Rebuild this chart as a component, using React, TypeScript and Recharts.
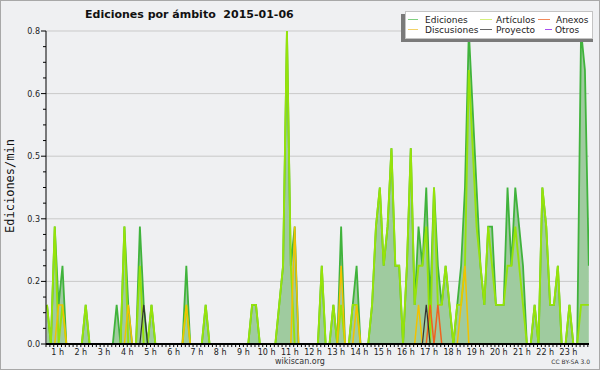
import React from 'react';
import { ComposedChart, Area, Line, XAxis, YAxis, CartesianGrid } from 'recharts';

// edits per minute, one point every 10 minutes (first point = 00:30)
const ediciones = [
  0.1, 0, 0.3, 0.1, 0.2, 0,
  0, 0, 0, 0, 0.1, 0,
  0, 0, 0, 0, 0, 0,
  0.1, 0, 0.3, 0.1, 0, 0,
  0.3, 0.1, 0, 0.1, 0, 0,
  0, 0, 0, 0, 0, 0,
  0.2, 0, 0, 0, 0, 0.1,
  0, 0, 0, 0, 0, 0,
  0, 0, 0, 0, 0, 0.1,
  0.1, 0, 0, 0, 0, 0,
  0.1, 0.2, 0.8, 0.2, 0.3, 0,
  0, 0, 0, 0, 0, 0.2,
  0, 0, 0.1, 0, 0.3, 0,
  0, 0.1, 0.2, 0, 0, 0,
  0.1, 0.3, 0.4, 0.2, 0.3, 0.5,
  0.2, 0.2, 0, 0.2, 0.5, 0.1,
  0.3, 0.2, 0.4, 0.1, 0.4, 0.2,
  0.1, 0.2, 0.1, 0, 0.1, 0.2,
  0.4, 0.8, 0.6, 0.4, 0.2, 0.1,
  0.3, 0.3, 0.1, 0.1, 0.1, 0.4,
  0.2, 0.4, 0.3, 0.2, 0, 0,
  0.1, 0, 0.4, 0.3, 0.1, 0.1,
  0.2, 0, 0, 0.1, 0, 0,
  0.8, 0.7, 0.2,
];

const articulos = [
  0.1, 0, 0.3, 0, 0.1, 0,
  0, 0, 0, 0, 0.1, 0,
  0, 0, 0, 0, 0, 0,
  0, 0, 0.3, 0, 0, 0,
  0.2, 0, 0, 0.1, 0, 0,
  0, 0, 0, 0, 0, 0,
  0.1, 0, 0, 0, 0, 0.1,
  0, 0, 0, 0, 0, 0,
  0, 0, 0, 0, 0, 0.1,
  0.1, 0, 0, 0, 0, 0,
  0.1, 0.2, 0.8, 0.2, 0, 0,
  0, 0, 0, 0, 0, 0.2,
  0, 0, 0.1, 0, 0.1, 0,
  0, 0.1, 0.1, 0, 0, 0,
  0.1, 0.3, 0.4, 0.2, 0.3, 0.5,
  0.2, 0.2, 0, 0.2, 0.5, 0.1,
  0.2, 0.2, 0.3, 0, 0.4, 0.1,
  0.1, 0.2, 0.1, 0, 0.1, 0.1,
  0.2, 0.7, 0.5, 0.3, 0.2, 0.1,
  0.3, 0.2, 0.1, 0.1, 0.1, 0.2,
  0.2, 0.3, 0.2, 0.1, 0, 0,
  0.1, 0, 0.4, 0.3, 0.1, 0.1,
  0.2, 0, 0, 0.1, 0, 0,
  0.1, 0.1, 0.1,
];

const discusiones = [
  0, 0, 0, 0.1, 0.1, 0,
  0, 0, 0, 0, 0, 0,
  0, 0, 0, 0, 0, 0,
  0, 0, 0, 0.1, 0, 0,
  0, 0, 0, 0, 0, 0,
  0, 0, 0, 0, 0, 0,
  0.1, 0, 0, 0, 0, 0,
  0, 0, 0, 0, 0, 0,
  0, 0, 0, 0, 0, 0,
  0, 0, 0, 0, 0, 0,
  0, 0, 0, 0, 0.3, 0,
  0, 0, 0, 0, 0, 0,
  0, 0, 0, 0, 0.2, 0,
  0, 0, 0.1, 0, 0, 0,
  0, 0, 0, 0, 0, 0,
  0, 0, 0, 0, 0, 0,
  0.1, 0, 0, 0, 0, 0,
  0, 0, 0, 0, 0, 0.1,
  0.2, 0, 0, 0, 0, 0,
  0, 0, 0, 0, 0, 0,
  0, 0, 0, 0, 0, 0,
  0, 0, 0, 0, 0, 0,
  0, 0, 0, 0, 0, 0,
  0, 0, 0,
];

const anexos = [
  0, 0, 0, 0, 0, 0,
  0, 0, 0, 0, 0, 0,
  0, 0, 0, 0, 0, 0,
  0, 0, 0, 0, 0, 0,
  0, 0, 0, 0, 0, 0,
  0, 0, 0, 0, 0, 0,
  0, 0, 0, 0, 0, 0,
  0, 0, 0, 0, 0, 0,
  0, 0, 0, 0, 0, 0,
  0, 0, 0, 0, 0, 0,
  0, 0, 0, 0, 0, 0,
  0, 0, 0, 0, 0, 0,
  0, 0, 0, 0, 0, 0,
  0, 0, 0, 0, 0, 0,
  0, 0, 0, 0, 0, 0,
  0, 0, 0, 0, 0, 0,
  0, 0, 0, 0.1, 0, 0.1,
  0, 0, 0, 0, 0, 0,
  0, 0, 0, 0, 0, 0,
  0, 0, 0, 0, 0, 0,
  0, 0, 0, 0, 0, 0,
  0, 0, 0, 0, 0, 0,
  0, 0, 0, 0, 0, 0,
  0, 0, 0,
];

const proyecto = [
  0, 0, 0, 0, 0, 0,
  0, 0, 0, 0, 0, 0,
  0, 0, 0, 0, 0, 0,
  0, 0, 0, 0, 0, 0,
  0, 0.1, 0, 0, 0, 0,
  0, 0, 0, 0, 0, 0,
  0, 0, 0, 0, 0, 0,
  0, 0, 0, 0, 0, 0,
  0, 0, 0, 0, 0, 0,
  0, 0, 0, 0, 0, 0,
  0, 0, 0, 0, 0, 0,
  0, 0, 0, 0, 0, 0,
  0, 0, 0, 0, 0, 0,
  0, 0, 0, 0, 0, 0,
  0, 0, 0, 0, 0, 0,
  0, 0, 0, 0, 0, 0,
  0, 0, 0.1, 0, 0, 0,
  0, 0, 0, 0, 0, 0,
  0, 0, 0, 0, 0, 0,
  0, 0, 0, 0, 0, 0,
  0, 0, 0, 0, 0, 0,
  0, 0, 0, 0, 0, 0,
  0, 0, 0, 0, 0, 0,
  0, 0, 0,
];

// nothing in "Otros" that day
const otros = ediciones.map(() => 0);

const hourLabels = [
  '1 h', '2 h', '3 h', '4 h', '5 h', '6 h', '7 h', '8 h', '9 h', '10 h', '11 h', '12 h',
  '13 h', '14 h', '15 h', '16 h', '17 h', '18 h', '19 h', '20 h', '21 h', '22 h', '23 h',
];

const yMajor = [0.16, 0.32, 0.48, 0.64, 0.8];

const legendItems = [
  { name: 'Ediciones', color: '#80d080', x: 408, len: 10, tx: 425, row: 0 },
  { name: 'Artículos', color: '#d4f07c', x: 480, len: 12, tx: 496, row: 0 },
  { name: 'Anexos', color: '#f2895a', x: 538, len: 12, tx: 556, row: 0 },
  { name: 'Discusiones', color: '#f2d268', x: 408, len: 10, tx: 425, row: 1 },
  { name: 'Proyecto', color: '#666666', x: 480, len: 12, tx: 496, row: 1 },
  { name: 'Otros', color: '#a64ff0', x: 545, len: 7, tx: 555, row: 1 },
];

const X_MIN = -0.26;
const X_MAX = 140.05;
const BG = '#eff0f2';
const FONT = '"DejaVu Sans", Verdana, sans-serif';

const data = ediciones.map((v, j) => ({
  j,
  ed: v,
  art: articulos[j],
  disc: discusiones[j],
  anx: anexos[j],
  proj: proyecto[j],
  otros: otros[j],
}));

const xTicks = ediciones.map((_, k) => k + X_MIN);
const yTicks = Array.from({ length: 21 }, (_, i) => +(i * 0.04).toFixed(2));

const XTick = (props: any) => {
  const { x, payload } = props;
  const k = Math.round(payload.value - X_MIN);
  if ((k - 3) % 6 !== 0) return null;
  const label = hourLabels[(k - 3) / 6];
  if (!label) return null;
  return (
    <text x={x} y={355} textAnchor="middle" fontSize={8} fontFamily={FONT} fill="#222">
      {label}
    </text>
  );
};

const YTick = (props: any) => {
  const { x, y, payload, index } = props;
  const major = index % 4 === 0;
  return (
    <g>
      <line x1={x - (major ? 5 : 3)} x2={x} y1={y} y2={y} stroke="#000" strokeWidth={1} />
      {major && (
        <text x={x - 6} y={y + 3} textAnchor="end" fontSize={8} fontFamily={FONT} fill="#222">
          {payload.value.toFixed(1)}
        </text>
      )}
    </g>
  );
};

export default function App() {
  return (
    <div
      style={{
        position: 'absolute',
        left: 0,
        top: 0,
        width: 600,
        height: 370,
        background: BG,
        overflow: 'hidden',
      }}
    >
      <ComposedChart
        width={600}
        height={370}
        data={data}
        margin={{ top: 31, right: 11, bottom: 0, left: 0 }}
      >
        <CartesianGrid
          horizontal
          vertical={false}
          horizontalValues={yMajor}
          stroke="#c9c9c9"
          strokeWidth={1}
        />
        <Area
          type="linear"
          dataKey="ed"
          name="Ediciones"
          stroke="#40b33c"
          strokeWidth={1.8}
          fill="#9fcb9f"
          fillOpacity={1}
          dot={false}
          activeDot={false}
          isAnimationActive={false}
        />
        <Line type="linear" dataKey="art" name="Artículos" stroke="#96e30a" strokeWidth={1.9} dot={false} activeDot={false} isAnimationActive={false} />
        <Line type="linear" dataKey="disc" name="Discusiones" stroke="#f2c200" strokeWidth={1.5} dot={false} activeDot={false} isAnimationActive={false} />
        <Line type="linear" dataKey="anx" name="Anexos" stroke="#f0621e" strokeWidth={1.5} dot={false} activeDot={false} isAnimationActive={false} />
        <Line type="linear" dataKey="proj" name="Proyecto" stroke="#333333" strokeWidth={1.2} dot={false} activeDot={false} isAnimationActive={false} />
        <Line type="linear" dataKey="otros" name="Otros" stroke="#9b3cf0" strokeWidth={1.2} dot={false} activeDot={false} isAnimationActive={false} />
        <XAxis
          dataKey="j"
          type="number"
          domain={[X_MIN, X_MAX]}
          allowDataOverflow
          ticks={xTicks}
          interval={0}
          height={26}
          axisLine={{ stroke: '#000', strokeWidth: 2 }}
          tickLine={{ stroke: '#000', strokeWidth: 1 }}
          tickSize={3}
          tickMargin={2}
          tick={<XTick />}
        />
        <YAxis
          type="number"
          domain={[0, 0.8]}
          allowDataOverflow
          ticks={yTicks}
          interval={0}
          width={46}
          axisLine={{ stroke: '#000', strokeWidth: 1 }}
          tickLine={false}
          tickSize={0}
          tickMargin={0}
          tick={<YTick />}
        />
      </ComposedChart>

      <svg
        width={600}
        height={370}
        style={{ position: 'absolute', left: 0, top: 0, pointerEvents: 'none' }}
      >
        <rect x={0.5} y={0.5} width={599} height={369} fill="none" stroke="#a8a8a8" />
        <text x={85} y={18} fontSize={11} fontWeight="bold" fontFamily={FONT} fill="#111" xmlSpace="preserve">
          Ediciones por ámbito  2015-01-06
        </text>
        <text
          x={14}
          y={186}
          transform="rotate(-90 14 186)"
          textAnchor="middle"
          fontSize={12}
          fontFamily='"DejaVu Sans Mono", monospace'
          fill="#111"
        >
          Ediciones/min
        </text>
        <text x={300} y={364} textAnchor="middle" fontSize={8} fontFamily={FONT} fill="#333">
          wikiscan.org
        </text>
        <text x={590} y={364} textAnchor="end" fontSize={6} fontFamily={FONT} fill="#333">
          CC BY-SA 3.0
        </text>

        <rect x={401} y={14} width={192} height={28} fill="#7a7a7a" />
        <rect x={405.5} y={11.5} width={187} height={27} fill="#fff" stroke="#c4c4c4" />
        {legendItems.map((it) => {
          const cy = it.row === 0 ? 19.5 : 29.5;
          return (
            <g key={it.name}>
              <line x1={it.x} x2={it.x + it.len} y1={cy} y2={cy} stroke={it.color} strokeWidth={1} />
              <text x={it.tx} y={cy + 3} fontSize={9} fontFamily={FONT} fill="#222">
                {it.name}
              </text>
            </g>
          );
        })}
      </svg>
    </div>
  );
}
